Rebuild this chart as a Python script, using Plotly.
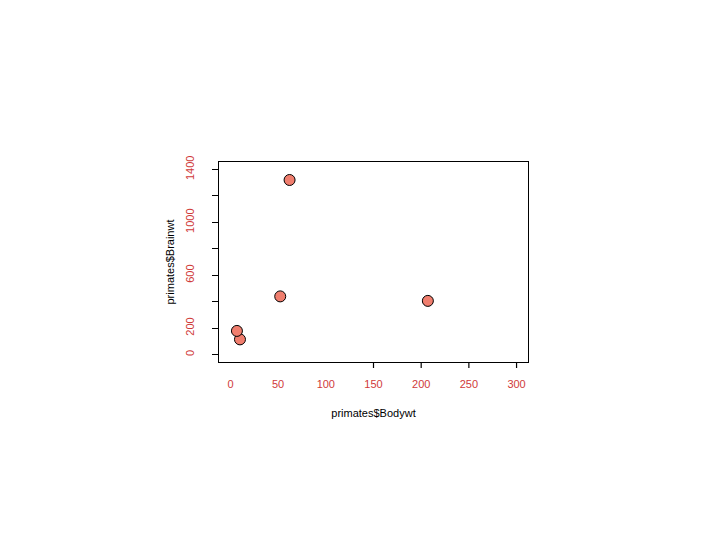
import plotly.graph_objects as go

body_wt = [10.0, 207.0, 62.0, 6.8, 52.2]
brain_wt = [115, 406, 1320, 179, 440]

x_tick_vals = [0, 50, 100, 150, 200, 250, 300]
x_tick_text = ["0", "50", "100", "150", "200", "250", "300"]
x_marked_ticks = [150, 200, 250, 300]
y_tick_vals = [0, 200, 400, 600, 800, 1000, 1200, 1400]
y_tick_text = ["0", "200", "", "600", "", "1000", "", "1400"]

x_range = [-12, 312]
y_range = [-56, 1456]

tick_color = "#d03a3a"
font_family = "Liberation Sans, Arial, sans-serif"

fig = go.Figure()
fig.add_trace(go.Scatter(
    x=body_wt, y=brain_wt, mode="markers",
    marker=dict(size=11, color="#f07e6e", line=dict(color="black", width=1)),
    showlegend=False, hoverinfo="skip",
))

# bottom tick marks (only the ones visible in the reference), placed via the axis range
plot_h = 540 - 154 - 186
for v in x_marked_ticks:
    xp = (v - x_range[0]) / (x_range[1] - x_range[0])
    fig.add_shape(type="line", xref="paper", yref="paper", x0=xp, x1=xp,
                  y0=0, y1=-6 / plot_h, line=dict(color="black", width=1.2))

fig.update_layout(
    width=720, height=540,
    margin=dict(l=211, r=200, t=154, b=186),
    paper_bgcolor="white", plot_bgcolor="white",
    font=dict(family=font_family, size=11, color="black"),
    xaxis=dict(
        range=x_range, tickvals=x_tick_vals, ticktext=x_tick_text,
        ticks="", showgrid=False, zeroline=False,
        showline=True, linecolor="black", linewidth=1, mirror=True,
        tickfont=dict(color=tick_color, size=11), ticklabelstandoff=12,
        title=dict(text="primates$Bodywt", font=dict(size=11, color="black"), standoff=20),
    ),
    yaxis=dict(
        range=y_range, tickvals=y_tick_vals, ticktext=y_tick_text,
        ticks="outside", ticklen=6, tickcolor="black", tickangle=-90,
        showgrid=False, zeroline=False,
        showline=True, linecolor="black", linewidth=1, mirror=True,
        tickfont=dict(color=tick_color, size=11), ticklabelstandoff=14,
        title=dict(text="primates$Brainwt", font=dict(size=11, color="black"), standoff=6),
    ),
)

fig.write_html("out.html")
